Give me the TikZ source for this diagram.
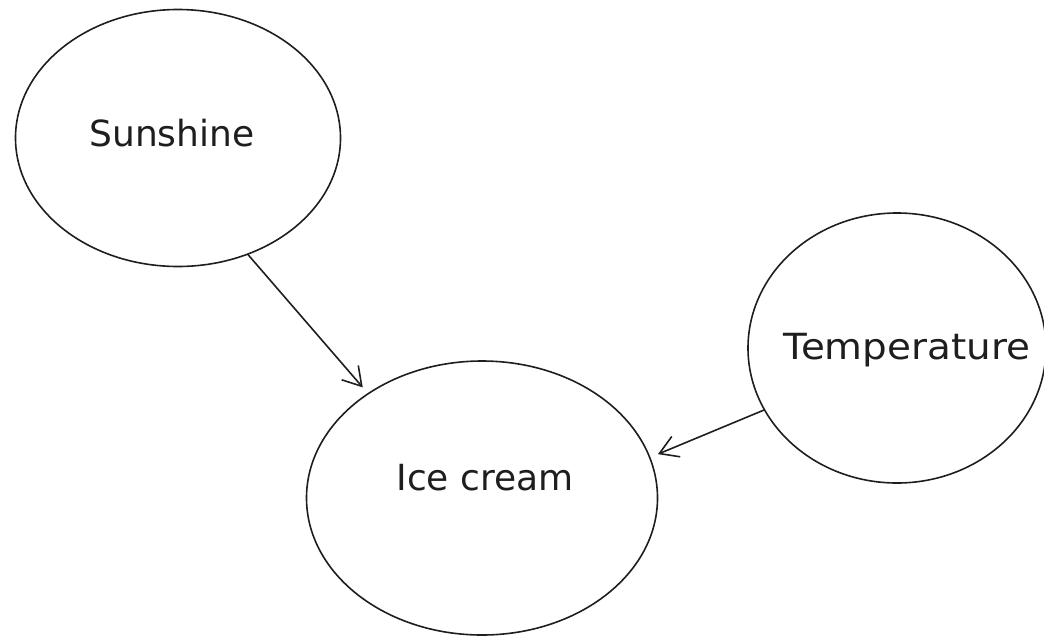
\documentclass[tikz,border=0pt]{standalone}
\usepackage{fontspec}
\setmainfont{DejaVu Sans}
\usetikzlibrary{shapes.geometric,arrows.meta}
\definecolor{ink}{HTML}{1E1E1E}
\tikzset{
  bubble/.style={ellipse, draw=ink, line width=1.6pt, inner sep=0pt},
  lbl/.style={font=\fontsize{36}{42}\selectfont, text=ink, inner sep=0pt},
  link/.style={draw=ink, line width=1.6pt, line cap=round,
    -{Straight Barb[length=18pt,width=22pt,line width=1.6pt]}}
}
\begin{document}
\begin{tikzpicture}[x=1pt,y=-1pt]
\useasboundingbox (0,0) rectangle (1044,638);
\node[bubble, minimum width=325pt, minimum height=257pt] (sun) at (178,138) {};
\node[bubble, minimum width=351pt, minimum height=274pt] (ice) at (482,498) {};
\node[bubble, minimum width=298pt, minimum height=270pt] (temp) at (897,348) {};
\node[lbl] (sunt) at (172,133) {Sunshine};
\node[lbl] (icet) at (485,478) {Ice cream};
\node[lbl, xscale=1.08] (tempt) at (907,350) {Temperature};
\draw[link] (sun.-59) -- ([shift={(-6pt,5pt)}]ice.137);
\draw[link] (temp.205) -- ([shift={(8pt,2pt)}]ice.14);
\end{tikzpicture}
\end{document}
